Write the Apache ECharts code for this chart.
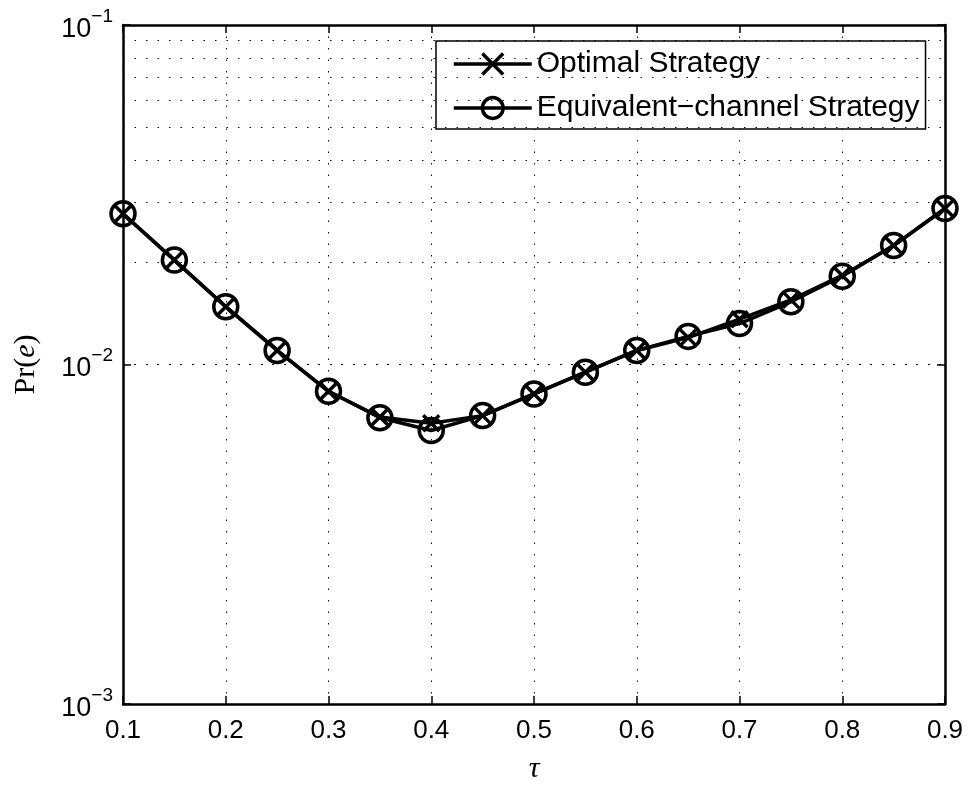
<!DOCTYPE html>
<html>
<head>
<meta charset="utf-8">
<script src="https://cdn.jsdelivr.net/npm/echarts@6/dist/echarts.min.js"></script>
<style>
html,body{margin:0;padding:0;background:#fff;}
#chart{width:973px;height:789px;}
</style>
</head>
<body>
<div id="chart"></div>
<script>
// ---- data ----
const tau = [0.1, 0.15, 0.2, 0.25, 0.3, 0.35, 0.4, 0.45, 0.5, 0.55, 0.6, 0.65, 0.7, 0.75, 0.8, 0.85, 0.9];
const optimal = [0.0278, 0.0203, 0.0148, 0.0110, 0.00834, 0.00700, 0.00671, 0.00707, 0.00819, 0.00949, 0.0110, 0.0120, 0.0136, 0.0155, 0.0183, 0.0224, 0.0288];
const equivalent = [0.0278, 0.0203, 0.0148, 0.0110, 0.00834, 0.00697, 0.00639, 0.00707, 0.00819, 0.00949, 0.0110, 0.0121, 0.0132, 0.0153, 0.0182, 0.0224, 0.0288];
const seriesNames = ['Optimal Strategy', 'Equivalent\u2212channel Strategy'];
const xTicks = [0.1, 0.2, 0.3, 0.4, 0.5, 0.6, 0.7, 0.8, 0.9];
const yMin = 0.001, yMax = 0.1;
const yMinorGrid = [0.002, 0.003, 0.004, 0.005, 0.006, 0.007, 0.008, 0.009,
                    0.02, 0.03, 0.04, 0.05, 0.06, 0.07, 0.08, 0.09];

const pairs = (ys) => tau.map((t, i) => [t, ys[i]]);
const dotted = { color: '#000', width: 1, type: [1.5, 10] };
const crossPath = 'path://M0,0 L10,10 M10,0 L0,10';

const chart = echarts.init(document.getElementById('chart'), null, { renderer: 'canvas' });
const axisLine = { show: true, lineStyle: { color: '#000', width: 2.5 } };
const sans = 'Liberation Sans, Arial, sans-serif';
const serif = 'Liberation Serif, DejaVu Serif, serif';

chart.setOption({
  backgroundColor: '#fff',
  animation: false,
  grid: { left: 123, right: 28, top: 25, bottom: 85 },
  legend: {
    left: 436, top: 41,
    orient: 'vertical',
    backgroundColor: '#fff',
    borderColor: '#000', borderWidth: 1.5, borderRadius: 0,
    padding: [8, 6, 6, 16],
    itemWidth: 78, itemHeight: 26, itemGap: 14,
    lineStyle: { width: 3.5, color: '#000' },
    itemStyle: { borderWidth: 3.5, borderColor: '#000' },
    textStyle: { fontFamily: sans, fontSize: 30, color: '#000' },
    data: seriesNames
  },
  xAxis: [{
    type: 'value', min: 0.1, max: 0.9, interval: 0.1, position: 'bottom',
    axisLine: axisLine,
    axisTick: { show: true, inside: true, length: 8, lineStyle: { color: '#000', width: 1.5 } },
    axisLabel: {
      margin: 14, color: '#000', fontSize: 26, fontFamily: sans,
      formatter: v => xTicks.includes(Math.round(v * 10) / 10) ? v.toFixed(1) : ''
    },
    splitLine: { show: true, lineStyle: dotted },
    name: '\u03c4', nameLocation: 'middle', nameGap: 50,
    nameTextStyle: { fontFamily: serif, fontStyle: 'italic', fontSize: 30, color: '#000' }
  }, {
    type: 'value', min: 0.1, max: 0.9, interval: 0.1, position: 'top',
    axisLine: axisLine,
    axisTick: { show: true, inside: true, length: 8, lineStyle: { color: '#000', width: 1.5 } },
    axisLabel: { show: false }, splitLine: { show: false }
  }],
  yAxis: [{
    type: 'log', logBase: 10, min: yMin, max: yMax, position: 'left',
    axisLine: axisLine,
    axisTick: { show: true, inside: true, length: 8, lineStyle: { color: '#000', width: 1.5 } },
    axisLabel: {
      margin: 10, color: '#000',
      formatter: v => '{a|10}{b|' + '\u2212' + Math.abs(Math.round(Math.log10(v))) + '}',
      rich: {
        a: { fontSize: 27, fontFamily: sans, color: '#000', lineHeight: 36, verticalAlign: 'bottom' },
        b: { fontSize: 19, fontFamily: sans, color: '#000', lineHeight: 20, verticalAlign: 'top' }
      }
    },
    splitLine: { show: true, lineStyle: dotted },
    name: '{r|Pr(}{i|e}{r|)}', nameLocation: 'middle', nameGap: 82, nameRotate: 90,
    nameTextStyle: {
      rich: {
        r: { fontFamily: serif, fontSize: 30, color: '#000' },
        i: { fontFamily: serif, fontStyle: 'italic', fontSize: 30, color: '#000' }
      }
    }
  }, {
    type: 'log', logBase: 10, min: yMin, max: yMax, position: 'right',
    axisLine: axisLine,
    axisTick: { show: true, inside: true, length: 8, lineStyle: { color: '#000', width: 1.5 } },
    axisLabel: { show: false }, splitLine: { show: false }
  }],
  series: [{
    name: seriesNames[0], type: 'line', xAxisIndex: 0, yAxisIndex: 0,
    data: pairs(optimal),
    symbol: crossPath, symbolSize: 16, showAllSymbol: true,
    lineStyle: { color: '#000', width: 3.5 },
    itemStyle: { color: '#000', borderColor: '#000', borderWidth: 3.5 },
    markLine: {
      silent: true, symbol: ['none', 'none'], label: { show: false },
      lineStyle: dotted, animation: false,
      data: yMinorGrid.map(v => ({ yAxis: v }))
    },
    z: 3
  }, {
    name: seriesNames[1], type: 'line', xAxisIndex: 0, yAxisIndex: 0,
    data: pairs(equivalent),
    symbol: 'circle', symbolSize: 24, showAllSymbol: true,
    lineStyle: { color: '#000', width: 3.5 },
    itemStyle: { color: 'rgba(0,0,0,0)', borderColor: '#000', borderWidth: 3.5 },
    z: 4
  }]
});
</script>
</body>
</html>
